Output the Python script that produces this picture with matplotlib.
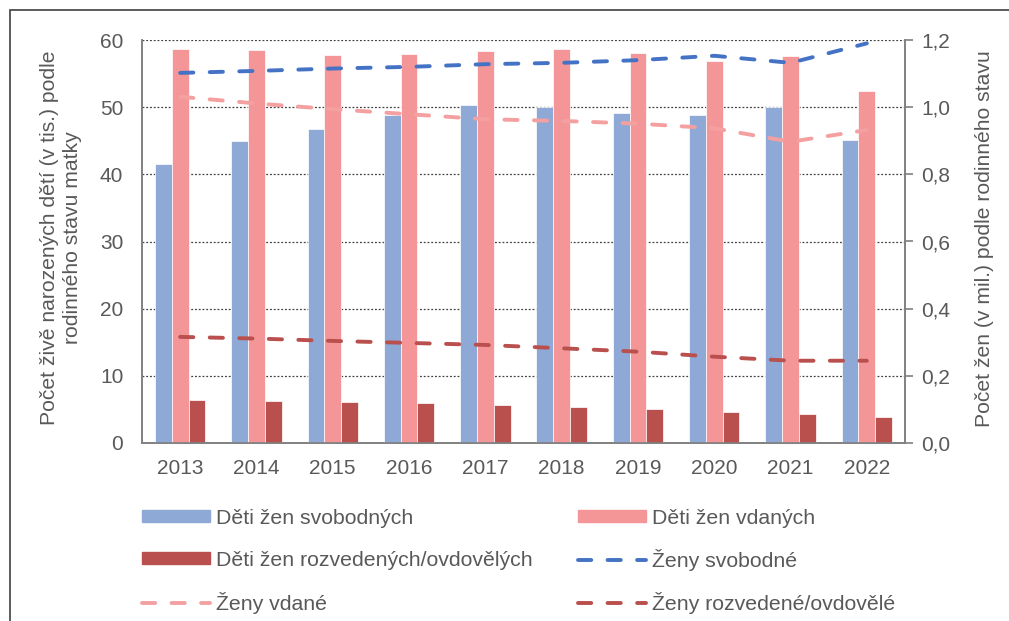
import matplotlib
matplotlib.use("Agg")
import matplotlib.pyplot as plt
import matplotlib.patches as patches
from matplotlib.lines import Line2D
import numpy as np

plt.rcParams['font.family'] = ['Liberation Sans', 'DejaVu Sans']

# data
years = ['2013', '2014', '2015', '2016', '2017', '2018', '2019', '2020', '2021', '2022']
deti_svobodnych = [41.6, 45.0, 46.8, 48.8, 50.3, 50.0, 49.1, 48.8, 50.0, 45.1]
deti_vdanych = [58.7, 58.5, 57.7, 57.9, 58.3, 58.7, 58.1, 56.8, 57.6, 52.4]
deti_rozvedenych = [6.4, 6.3, 6.1, 5.9, 5.65, 5.4, 5.0, 4.6, 4.25, 3.8]
zeny_svobodne = [1.102, 1.108, 1.115, 1.120, 1.128, 1.132, 1.140, 1.153, 1.132, 1.190]
zeny_vdane = [1.031, 1.011, 0.994, 0.979, 0.964, 0.959, 0.951, 0.937, 0.897, 0.932]
zeny_rozvedene = [0.316, 0.311, 0.304, 0.298, 0.292, 0.282, 0.272, 0.257, 0.245, 0.245]

legend_labels = ['Děti žen svobodných', 'Děti žen vdaných',
                 'Děti žen rozvedených/ovdovělých', 'Ženy svobodné',
                 'Ženy vdané', 'Ženy rozvedené/ovdovělé']

c_blue_bar = '#8EA9D5'
c_pink_bar = '#F49698'
c_red_bar = '#B9504E'
c_blue_line = '#4472C4'
c_pink_line = '#F4A0A0'
c_red_line = '#B9504E'
grey = '#595959'

W, H = 1009, 621
fig = plt.figure(figsize=(W / 100, H / 100), dpi=100)
ax = fig.add_axes([142 / W, (H - 443) / H, (905 - 142) / W, (443 - 40) / H])
ax2 = ax.twinx()

x = np.arange(len(years))
bw = 0.22
ax.bar(x - bw, deti_svobodnych, bw, color=c_blue_bar, edgecolor='white', linewidth=0.5, zorder=3)
ax.bar(x, deti_vdanych, bw, color=c_pink_bar, edgecolor='white', linewidth=0.5, zorder=3)
ax.bar(x + bw, deti_rozvedenych, bw, color=c_red_bar, edgecolor='white', linewidth=0.5, zorder=3)

lw = 2.8
dash = (3.4, 4.2)
for vals, col in [(zeny_svobodne, c_blue_line), (zeny_vdane, c_pink_line),
                  (zeny_rozvedene, c_red_line)]:
    ax2.plot(x, vals, color=col, lw=lw, dashes=dash, dash_capstyle='round')

ax.set_xlim(-0.5, len(years) - 0.5)
ax.set_ylim(0, 60)
ax.set_yticks(np.arange(0, 61, 10))
ax.set_xticks(x)
ax.set_xticklabels(years)
ax2.set_ylim(0, 1.2)
ax2.set_yticks(np.arange(0, 1.21, 0.2))
ax2.set_yticklabels([f'{v:.1f}'.replace('.', ',') for v in np.arange(0, 1.21, 0.2)])

ax.grid(axis='y', color='#404040', linestyle=(0, (1.5, 1.5)), linewidth=0.9, zorder=0)
ax.set_axisbelow(True)
ax.tick_params(axis='y', length=0, labelsize=15, labelcolor=grey, pad=13.5)
ax.tick_params(axis='x', length=0, labelsize=15, labelcolor=grey, pad=11.5)
ax2.tick_params(axis='y', length=6, color='#808080', width=1.2, labelsize=15,
                labelcolor=grey, pad=5.5)
for a in (ax, ax2):
    a.spines['top'].set_visible(False)
    for s in ('left', 'right', 'bottom'):
        a.spines[s].set_color('#808080')
        a.spines[s].set_linewidth(1.2)

fig.text(61 / W, 1 - 238 / H, 'Počet živě narozených dětí (v tis.) podle\nrodinného stavu matky',
         rotation=90, ha='center', va='center', fontsize=15.2, color=grey,
         multialignment='center', linespacing=1.3)
fig.text(984 / W, 1 - 239 / H, 'Počet žen (v mil.) podle rodinného stavu',
         rotation=90, ha='center', va='center', fontsize=15.2, color=grey)

# legend - one entry per legend so rows line up
handles = [patches.Patch(color=c_blue_bar), patches.Patch(color=c_pink_bar),
           patches.Patch(color=c_red_bar),
           Line2D([], [], color=c_blue_line, lw=lw, dashes=dash, dash_capstyle='round'),
           Line2D([], [], color=c_pink_line, lw=lw, dashes=dash, dash_capstyle='round'),
           Line2D([], [], color=c_red_line, lw=lw, dashes=dash, dash_capstyle='round')]
leg_x = [142, 578]
leg_y = [518, 560, 603]
leg_kw = dict(frameon=False, fontsize=15.3, handlelength=3.2, handleheight=0.45,
              handletextpad=0.3, borderaxespad=0, borderpad=0, labelcolor=grey)
for i, (h, lab) in enumerate(zip(handles, legend_labels)):
    lg = fig.legend([h], [lab], loc='center left',
                    bbox_to_anchor=(leg_x[i % 2] / W, 1 - leg_y[i // 2] / H), **leg_kw)

# outer frame
fig.patches.append(patches.Rectangle((10 / W, -0.1), 1.1, 1.1 - 10 / H,
                                     transform=fig.transFigure, fill=False,
                                     edgecolor='#404040', linewidth=1.2))

fig.savefig('out.png', dpi=100)
